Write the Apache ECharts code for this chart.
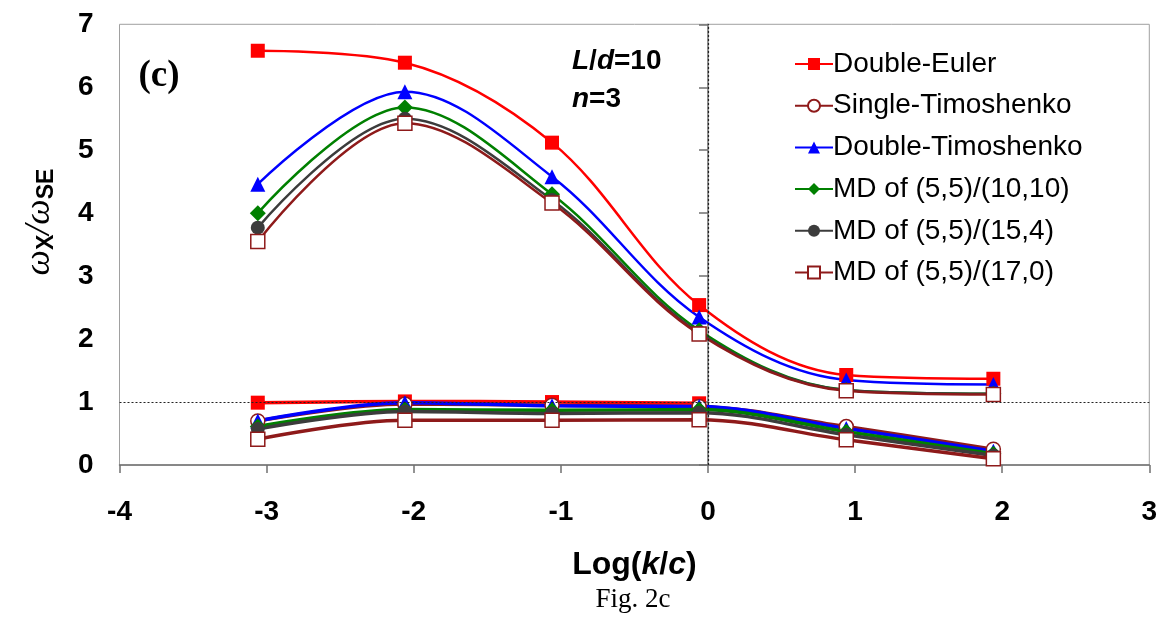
<!DOCTYPE html>
<html>
<head>
<meta charset="utf-8">
<title>Fig. 2c</title>
<script src="https://cdn.jsdelivr.net/npm/echarts@6/dist/echarts.min.js"></script>
<style>
  html, body { margin: 0; padding: 0; background: #fff; }
  #chart { width: 1174px; height: 622px; }
</style>
</head>
<body>
<div id="chart"></div>
<script>
// Log(k/c) positions of the data points
const xVals = [-3.06, -2.06, -1.06, -0.06, 0.94, 1.94];

// upper branch (omega ratio)
const deUpper   = [6.58, 6.39, 5.12, 2.54, 1.43, 1.37];
const dtUpper   = [4.46, 5.93, 4.58, 2.35, 1.35, 1.28];
const md10Upper = [4.00, 5.68, 4.30, 2.14, 1.19, 1.13];
const md15Upper = [3.77, 5.50, 4.21, 2.10, 1.19, 1.13];
const md17Upper = [3.55, 5.43, 4.16, 2.08, 1.18, 1.12];

// lower branch
const deLower   = [0.99, 1.01, 1.00, 0.98];
const stLower   = [0.70, 0.97, 0.95, 0.93, 0.61, 0.25];
const dtLower   = [0.70, 0.99, 0.94, 0.93, 0.58, 0.22];
const md10Lower = [0.61, 0.88, 0.87, 0.88, 0.53, 0.18];
const md15Lower = [0.57, 0.85, 0.82, 0.83, 0.48, 0.15];
const md17Lower = [0.41, 0.71, 0.71, 0.72, 0.40, 0.10];

const xTicks = [-4, -3, -2, -1, 0, 1, 2, 3];
const yTicks = [0, 1, 2, 3, 4, 5, 6, 7];

const names = [
  'Double-Euler',
  'Single-Timoshenko',
  'Double-Timoshenko',
  'MD of (5,5)/(10,10)',
  'MD of (5,5)/(15,4)',
  'MD of (5,5)/(17,0)'
];

const DARKRED = '#8e1a1a';
const styles = {
  'Double-Euler':        { color: '#ff0000', symbol: 'rect', size: 14, open: false },
  'Single-Timoshenko':   { color: DARKRED,   symbol: 'circle', size: 14, open: true },
  'Double-Timoshenko':   { color: '#0000ff', symbol: 'triangle', size: 15, open: false },
  'MD of (5,5)/(10,10)': { color: '#008000', symbol: 'diamond', size: 16, open: false },
  'MD of (5,5)/(15,4)':  { color: '#3c3c3c', symbol: 'circle', size: 14, open: false },
  'MD of (5,5)/(17,0)':  { color: DARKRED,   symbol: 'rect', size: 14, open: true }
};

const pairs = (ys) => ys.map((y, i) => [xVals[i], y]);

function makeSeries(name, ys, width) {
  const s = styles[name];
  return {
    name: name,
    type: 'line',
    smooth: 0.35,
    data: pairs(ys),
    symbol: s.symbol,
    symbolSize: s.size,
    lineStyle: { color: s.color, width: width },
    itemStyle: s.open
      ? { color: '#ffffff', borderColor: s.color, borderWidth: 1.5 }
      : { color: s.color, borderWidth: 0 },
    emphasis: { disabled: true },
    animation: false
  };
}

const series = [
  makeSeries('Double-Euler', deUpper, 2.5),
  makeSeries('Double-Euler', deLower, 3.5),
  makeSeries('Single-Timoshenko', stLower, 3.5),
  makeSeries('Double-Timoshenko', dtUpper, 2.5),
  makeSeries('Double-Timoshenko', dtLower, 3.5),
  makeSeries('MD of (5,5)/(10,10)', md10Upper, 2.5),
  makeSeries('MD of (5,5)/(10,10)', md10Lower, 3.5),
  makeSeries('MD of (5,5)/(15,4)', md15Upper, 2.5),
  makeSeries('MD of (5,5)/(15,4)', md15Lower, 3.5),
  makeSeries('MD of (5,5)/(17,0)', md17Upper, 2.5),
  makeSeries('MD of (5,5)/(17,0)', md17Lower, 3.5)
];

// dotted reference lines at x = 0 and y = 1
series[0].markLine = {
  silent: true,
  symbol: 'none',
  label: { show: false },
  lineStyle: { color: '#222', type: [2, 2], width: 1.2 },
  data: [{ xAxis: 0 }, { yAxis: 1 }],
  animation: false
};

const chart = echarts.init(document.getElementById('chart'));
chart.setOption({
  backgroundColor: '#fff',
  animation: false,
  grid: {
    left: 119.5, right: 24.7, top: 24.3, bottom: 157,
    show: true, borderColor: '#a0a0a0', borderWidth: 1
  },
  legend: {
    data: names,
    orient: 'vertical',
    left: 789,
    top: 45,
    itemWidth: 38,
    itemHeight: 15,
    itemGap: 13.7,
    textStyle: {
      fontFamily: 'Liberation Sans', fontSize: 28, color: '#000',
      lineHeight: 28, padding: [0, 0, 0, -5]
    }
  },
  xAxis: {
    type: 'value',
    min: xTicks[0], max: xTicks[xTicks.length - 1], interval: 1,
    splitLine: { show: false },
    axisLine: { lineStyle: { color: '#707070', width: 1.5 } },
    axisTick: { length: 8, lineStyle: { color: '#707070', width: 1.5 } },
    axisLabel: {
      margin: 33, color: '#000', fontFamily: 'Liberation Sans',
      fontWeight: 'bold', fontSize: 28
    },
    name: '{a|Log(}{i|k}{a|/}{i|c}{a|)}',
    nameLocation: 'middle',
    nameGap: 84,
    nameTextStyle: {
      rich: {
        a: { fontFamily: 'Liberation Sans', fontWeight: 'bold', fontSize: 32, color: '#000' },
        i: { fontFamily: 'Liberation Sans', fontWeight: 'bold', fontStyle: 'italic', fontSize: 32, color: '#000' }
      }
    }
  },
  yAxis: {
    type: 'value',
    min: yTicks[0], max: yTicks[yTicks.length - 1], interval: 1,
    splitLine: { show: false },
    axisLine: { lineStyle: { color: '#707070', width: 1.5 } },
    axisTick: { length: 9, lineStyle: { color: '#707070', width: 1.5 } },
    axisLabel: {
      margin: 26, color: '#000', fontFamily: 'Liberation Sans',
      fontWeight: 'bold', fontSize: 28
    }
  },
  graphic: [
    {
      type: 'text', x: 40, y: 222, rotation: Math.PI / 2,
      style: {
        text: '{w|ω}{s|X}{w|/ω}{s|SE}',
        align: 'center', verticalAlign: 'middle',
        rich: {
          w: { fontFamily: 'Liberation Serif', fontStyle: 'italic', fontSize: 36, color: '#000', lineHeight: 42 },
          s: { fontFamily: 'Liberation Sans', fontWeight: 'bold', fontSize: 23, color: '#000', lineHeight: 42, padding: [14, 0, 0, 0] }
        }
      }
    },
    {
      type: 'text', x: 159, y: 76,
      style: {
        text: '(c)', align: 'center', verticalAlign: 'middle',
        font: 'bold 37px "Liberation Serif"', fill: '#000'
      }
    },
    {
      type: 'text', x: 572, y: 61,
      style: {
        text: '{i|L}{a|/}{i|d}{a|=10}', verticalAlign: 'middle',
        rich: {
          a: { fontFamily: 'Liberation Sans', fontWeight: 'bold', fontSize: 28, color: '#000' },
          i: { fontFamily: 'Liberation Sans', fontWeight: 'bold', fontStyle: 'italic', fontSize: 28, color: '#000' }
        }
      }
    },
    {
      type: 'text', x: 572, y: 99,
      style: {
        text: '{i|n}{a|=3}', verticalAlign: 'middle',
        rich: {
          a: { fontFamily: 'Liberation Sans', fontWeight: 'bold', fontSize: 28, color: '#000' },
          i: { fontFamily: 'Liberation Sans', fontWeight: 'bold', fontStyle: 'italic', fontSize: 28, color: '#000' }
        }
      }
    },
    {
      type: 'text', x: 633, y: 600,
      style: {
        text: 'Fig. 2c', align: 'center', verticalAlign: 'middle',
        font: '27px "Liberation Serif"', fill: '#000'
      }
    }
  ],
  series: series
});
</script>
</body>
</html>
